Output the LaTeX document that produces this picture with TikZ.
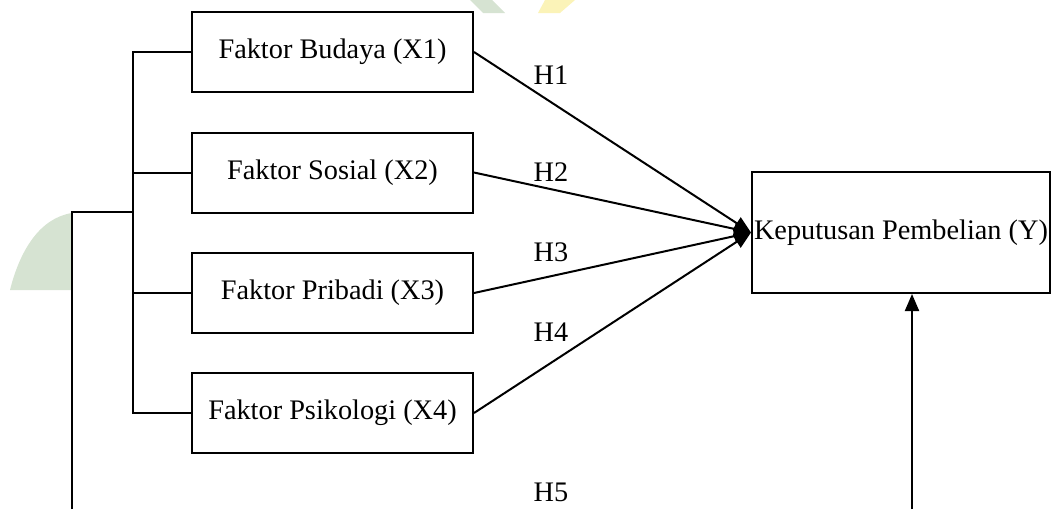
\documentclass[tikz,border=0pt]{standalone}
\usepackage{fontspec}
\setmainfont{Liberation Serif}
\usetikzlibrary{arrows.meta}
\definecolor{wmgreen}{HTML}{D6E3D2}
\definecolor{wmyellow}{HTML}{FBF3B8}
\begin{document}
\begin{tikzpicture}[x=1pt,y=-1pt,
  box/.style={draw,line width=2pt,minimum width=281pt,minimum height=80pt,inner sep=0pt,font=\fontsize{28.3}{32}\selectfont},
  conn/.style={line width=2pt},
  arr/.style={line width=2pt,-{Triangle[length=17pt,width=14pt]}},
  lbl/.style={font=\fontsize{28.3}{32}\selectfont,inner sep=0pt}]
\useasboundingbox (0,0) rectangle (1056,509);
% watermark
\fill[wmgreen] (72,213) .. controls (40,218) and (20,250) .. (10,290) -- (72,290) -- cycle;
\fill[wmgreen] (470,0) -- (492,0) -- (505,13) -- (483,13) -- cycle;
\fill[wmyellow] (545,0) -- (575,0) -- (560,13) -- (538,13) -- cycle;
% nodes
\node[box] (X1) at (332.5,52) {Faktor Budaya (X1)};
\node[box] (X2) at (332.5,172.5) {Faktor Sosial (X2)};
\node[box] (X3) at (332.5,293) {Faktor Pribadi (X3)};
\node[box] (X4) at (332.5,413) {Faktor Psikologi (X4)};
\node[box,minimum width=298pt,minimum height=121pt] (Y) at (901,232.5) {Keputusan Pembelian (Y)};
% labels
\node[lbl] (H1) at (551,75) {H1};
\node[lbl] (H2) at (551,172) {H2};
\node[lbl] (H3) at (551,252) {H3};
\node[lbl] (H4) at (551,332) {H4};
\node[lbl] (H5) at (551,492) {H5};
% bracket
\coordinate (br) at (133,0);
\coordinate (lt) at (72,212);
\coordinate (lb) at (72,509);
\coordinate (bt) at (912,509);
\draw[conn] (X1.west) -- (X1.west -| br) -- (X4.west -| br) -- (X4.west);
\draw[conn] (X2.west) -- (X2.west -| br);
\draw[conn] (X3.west) -- (X3.west -| br);
\draw[conn] (lb) -- (lt) -- (lt -| br);
% arrows
\draw[arr] (X1.east) -- (Y.west);
\draw[arr] (X2.east) -- (Y.west);
\draw[arr] (X3.east) -- (Y.west);
\draw[arr] (X4.east) -- (Y.west);
\draw[arr] (bt) -- (bt |- Y.south);
\end{tikzpicture}
\end{document}
